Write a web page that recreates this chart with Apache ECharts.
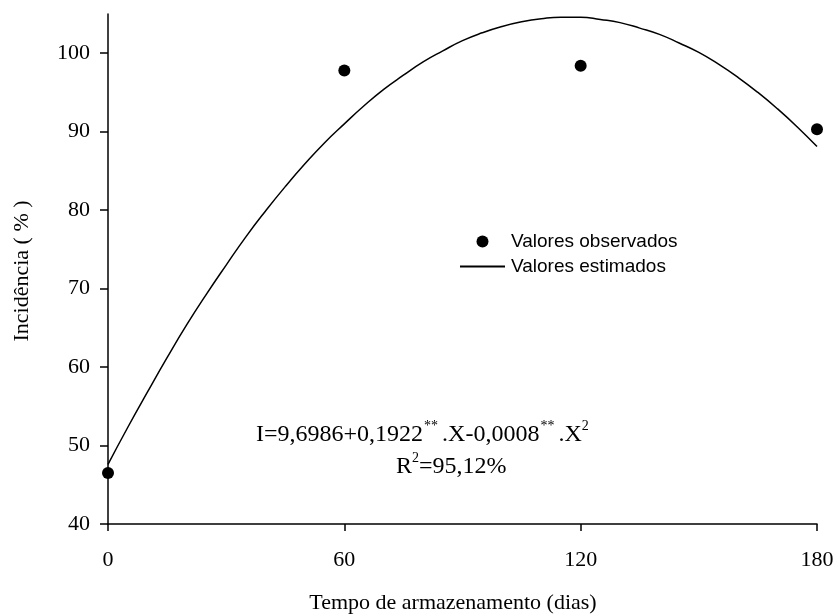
<!DOCTYPE html>
<html>
<head>
<meta charset="utf-8">
<script src="https://cdn.jsdelivr.net/npm/echarts@6/dist/echarts.min.js"></script>
<style>
  html, body { margin: 0; padding: 0; background: #fff; }
  #chart { width: 838px; height: 616px; }
</style>
</head>
<body>
<div id="chart"></div>
<script>
// observed points
const obsDays = [0, 60, 120, 180]
const obsValues = [46.5, 97.8, 98.4, 90.3]

// fitted curve, every 5 days
const fitDays = [0, 5, 10, 15, 20, 25, 30, 35, 40, 45, 50, 55, 60, 65, 70, 75, 80, 85, 90,
  95, 100, 105, 110, 115, 120, 125, 130, 135, 140, 145, 150, 155, 160, 165, 170, 175, 180]
const fitValues = [47.6, 52.3, 56.8, 61.2, 65.4, 69.3, 73.0, 76.6, 79.9, 83.0, 85.9, 88.6, 91.0, 93.3, 95.4, 97.2, 98.9, 100.3, 101.6,
  102.6, 103.4, 104.0, 104.4, 104.6, 104.6, 104.3, 103.9, 103.2, 102.4, 101.3, 100.1, 98.6, 96.9, 95.0, 92.9, 90.6, 88.1]

const xTicks = [0, 60, 120, 180]
const yTicks = [40, 50, 60, 70, 80, 90, 100]

const serif = '"Liberation Serif", "Times New Roman", serif'
const sans = '"Liberation Sans", Arial, sans-serif'

const chart = echarts.init(document.getElementById('chart'))

const axisCommon = {
  axisLine: { show: true, onZero: false, lineStyle: { color: '#000', width: 1.5 } },
  axisTick: { show: true, inside: false, lineStyle: { color: '#000', width: 1.5 } },
  splitLine: { show: false },
  axisLabel: { color: '#000', fontFamily: serif, fontSize: 22 }
}

// rich text styles for the equation
const eqRich = {
  n: { fontFamily: serif, fontSize: 24, lineHeight: 28, verticalAlign: 'bottom', fill: '#000' },
  s: { fontFamily: serif, fontSize: 14, lineHeight: 14, verticalAlign: 'top', fill: '#000', padding: [0, 4, 0, 1] },
  t: { fontFamily: serif, fontSize: 14, lineHeight: 14, verticalAlign: 'top', fill: '#000' }
}

const options = {
  animation: false,
  backgroundColor: '#fff',
  grid: { left: 108, right: 21, top: 14, bottom: 92, containLabel: false },
  xAxis: {
    type: 'value',
    min: 0,
    max: 180,
    interval: 60,
    ...axisCommon,
    axisTick: { ...axisCommon.axisTick, length: 7, customValues: xTicks },
    axisLabel: { ...axisCommon.axisLabel, margin: 25, customValues: xTicks }
  },
  yAxis: {
    type: 'value',
    min: 40,
    max: 105,
    interval: 10,
    ...axisCommon,
    axisTick: { ...axisCommon.axisTick, length: 8, customValues: yTicks },
    axisLabel: { ...axisCommon.axisLabel, margin: 18, customValues: yTicks }
  },
  legend: {
    orient: 'vertical',
    left: 454,
    top: 227,
    itemWidth: 45,
    itemHeight: 12,
    itemGap: 6,
    textStyle: { color: '#000', fontFamily: sans, fontSize: 19, padding: [0, 0, 0, 1] },
    data: [
      { name: 'Valores observados', icon: 'circle' },
      { name: 'Valores estimados', itemStyle: { opacity: 0 } }
    ]
  },
  graphic: [
    {
      type: 'text',
      left: 256,
      top: 419,
      style: {
        text: '{n|I=9,6986+0,1922}{s|**}{n|.X-0,0008}{s|**}{n|.X}{t|2}',
        fill: '#000',
        rich: eqRich
      }
    },
    {
      type: 'text',
      left: 396,
      top: 451,
      style: {
        text: '{n|R}{t|2}{n|=95,12%}',
        fill: '#000',
        rich: eqRich
      }
    },
    {
      type: 'text',
      x: 453,
      y: 603,
      style: {
        text: 'Tempo de armazenamento (dias)',
        fill: '#000',
        font: '22px ' + serif,
        align: 'center',
        verticalAlign: 'middle'
      }
    },
    {
      type: 'text',
      x: 22,
      y: 271,
      rotation: Math.PI / 2,
      style: {
        text: 'Incidência ( % )',
        fill: '#000',
        font: '22px ' + serif,
        align: 'center',
        verticalAlign: 'middle'
      }
    }
  ],
  series: [
    {
      name: 'Valores estimados',
      type: 'line',
      data: fitDays.map((d, i) => [d, fitValues[i]]),
      smooth: true,
      showSymbol: false,
      symbol: 'none',
      lineStyle: { color: '#000', width: 1.5 },
      itemStyle: { color: '#000' },
      z: 2
    },
    {
      name: 'Valores observados',
      type: 'scatter',
      data: obsDays.map((d, i) => [d, obsValues[i]]),
      symbol: 'circle',
      symbolSize: 12,
      itemStyle: { color: '#000', opacity: 1 },
      clip: false,
      z: 3
    }
  ]
}

chart.setOption(options)
</script>
</body>
</html>
